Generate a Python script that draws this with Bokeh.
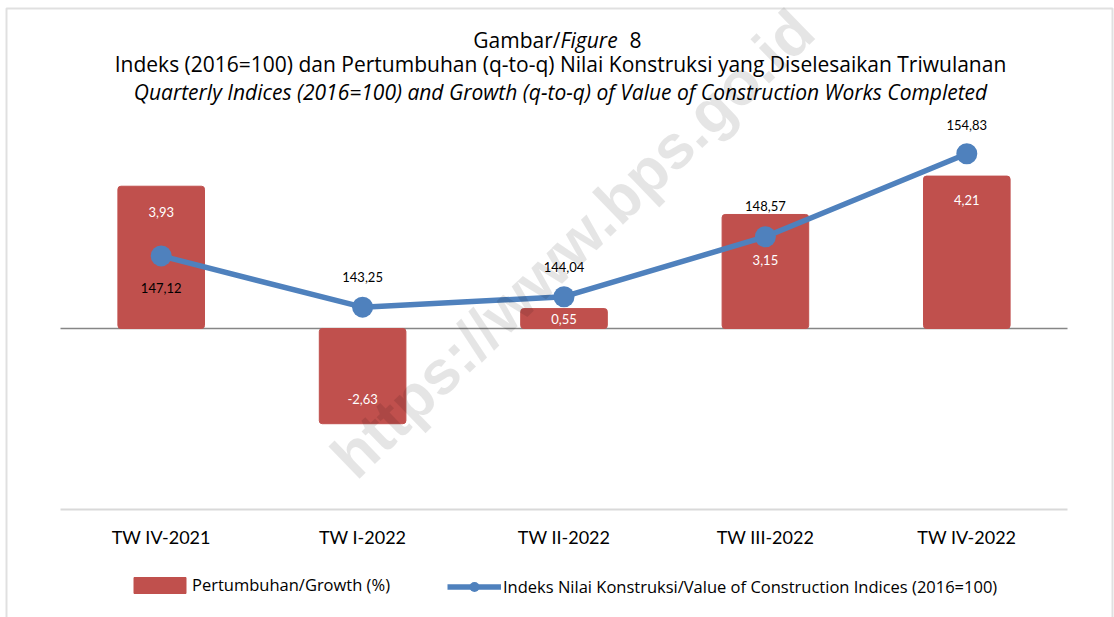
from bokeh.plotting import figure
from bokeh.models import (Range1d, Label, Legend, LegendItem, ColumnDataSource,
                          BoxAnnotation)
from bokeh.core.properties import value
from bokeh.embed import file_html
from bokeh.resources import INLINE

# ---------------- data ----------------
quarters = ["TW IV-2021", "TW I-2022", "TW II-2022", "TW III-2022", "TW IV-2022"]
growth = [3.93, -2.63, 0.55, 3.15, 4.21]               # Pertumbuhan / Growth (%)
index_vals = [147.12, 143.25, 144.04, 148.57, 154.83]  # Indeks (2016=100)
growth_axis = (-5, 5)                                  # primary value axis (hidden)

# ---------------- label styling (pixel offsets) ----------------
growth_label_dy = [26, -25, 10, 46, 24]
index_label_dy = [32, -30, -30, -31, -29]

W, H = 1114, 617
# plot area in canvas pixels
PL, PR, PT, PB = 60, 1067, 147, 509
CAT_W = (PR - PL) / len(quarters)
G_PX = (PB - PT) / (growth_axis[1] - growth_axis[0])
ZERO_PY = PT + growth_axis[1] * G_PX
# secondary axis: pixel scale of the index line
I_REF, I_REF_PY, I_PX = 143.25, 306.7, 13.25

def dx(px):
    return (px - PL) / CAT_W

def dy(py):
    return (ZERO_PY - py) / G_PX

def fmt(v):
    return f"{v:.2f}".replace(".", ",")

xpos = [i + 0.5 for i in range(len(quarters))]
src = ColumnDataSource(dict(
    x=xpos, q=quarters, g=growth, i=index_vals,
    gl=[fmt(v) for v in growth], il=[fmt(v) for v in index_vals],
    gdy=growth_label_dy, idy=index_label_dy,
    base=[growth_axis[0]] * len(quarters),
))

FONT = "Lato"
TFONT = "Open Sans"

p = figure(width=W, height=H,
           x_range=Range1d(dx(0), dx(W)),
           y_range=Range1d(dy(H), dy(0)),
           x_axis_location=None, y_axis_location=None,
           output_backend="svg", toolbar_location=None, min_border=0)
p.extra_y_ranges = {"idx": Range1d(I_REF + (I_REF_PY - H) / I_PX,
                                   I_REF + I_REF_PY / I_PX)}
p.xgrid.visible = False
p.ygrid.visible = False
p.outline_line_color = None
p.background_fill_color = "white"
p.border_fill_color = "white"

# category axis line and zero line
n = len(quarters)
p.segment(x0=[0], x1=[n], y0=[growth_axis[0]], y1=[growth_axis[0]],
          line_color="#d9d9d9", line_width=2)
p.segment(x0=[0], x1=[n], y0=[0], y1=[0], line_color="#868686", line_width=1.5)

bars = p.vbar(x="x", top="g", width=0.43, source=src, fill_color="#c0504d",
              line_color="#c0504d", border_radius=3)

line = p.line(x="x", y="i", source=src, y_range_name="idx",
              line_color="#4f81bd", line_width=5.5)
pts = p.scatter(x="x", y="i", source=src, y_range_name="idx", size=21,
                fill_color="#4f81bd", line_color=None)

p.text(x="x", y="g", text="gl", y_offset="gdy", source=src,
       text_align="center", text_baseline="middle", text_color="white",
       text_font=value(FONT), text_font_size="13px")
p.text(x="x", y="i", text="il", y_offset="idy", source=src, y_range_name="idx",
       text_align="center", text_baseline="middle", text_color="#000000",
       text_font=value(FONT), text_font_size="13px")

# category labels
p.text(x="x", y="base", text="q", y_offset=27, source=src,
       text_align="center", text_baseline="middle", text_color="#000000",
       text_font=value(FONT), text_font_size="18px")

# ---------------- titles ----------------
def lab(px, py, text, align="center", style="normal", size="21px"):
    p.add_layout(Label(x=dx(px), y=dy(py), text=text, text_align=align,
                       text_baseline="alphabetic", text_font=TFONT,
                       text_font_style=style, text_font_size=size,
                       text_color="#000000"))

lab(560, 39, "Gambar/", align="right")
lab(560, 39, "Figure", align="left", style="italic")
lab(629, 39, "8", align="left")
lab(560, 63, "Indeks (2016=100) dan Pertumbuhan (q-to-q) Nilai Konstruksi yang Diselesaikan Triwulanan")
lab(560, 91, "Quarterly Indices (2016=100) and Growth (q-to-q) of Value of Construction Works Completed",
    style="italic")

# ---------------- legends ----------------
common = dict(orientation="horizontal", padding=0, margin=0, border_line_color=None,
              background_fill_alpha=0, label_text_font=TFONT,
              label_text_font_size="16.5px", label_text_color="#000000",
              label_height=16)
legend_bar = Legend(items=[LegendItem(label="Pertumbuhan/Growth (%)", renderers=[bars])],
                    location=(127, 21), glyph_width=65, glyph_height=20,
                    label_standoff=0, **common)
legend_line = Legend(items=[LegendItem(
    label="Indeks Nilai Konstruksi/Value of Construction Indices (2016=100)",
    renderers=[line, pts])],
    location=(447, 18), glyph_width=54, glyph_height=25, label_standoff=2, **common)
p.add_layout(legend_bar)
p.add_layout(legend_line)

# ---------------- watermark ----------------
p.add_layout(Label(x=dx(572), y=dy(243), text="https://www.bps.go.id", angle=44,
                   angle_units="deg", text_align="center", text_baseline="middle",
                   text_font="Liberation Sans", text_font_style="bold",
                   text_font_size="62px", text_color="#000000", text_alpha=0.1))

# ---------------- chart border ----------------
p.add_layout(BoxAnnotation(left=dx(6), right=dx(1112), top=dy(8), bottom=dy(640),
                           fill_alpha=0, line_color="#999999", line_width=2))

open("out.html", "w").write(file_html(p, INLINE))
